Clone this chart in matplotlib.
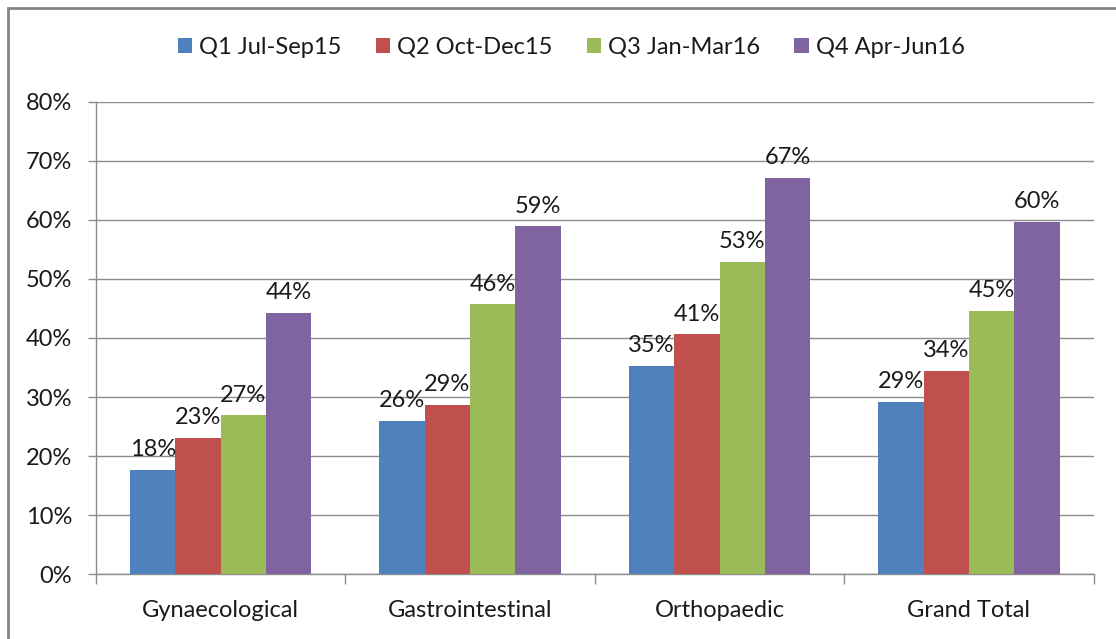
import numpy as np
import matplotlib
matplotlib.use('Agg')
import matplotlib.pyplot as plt
from matplotlib.patches import Rectangle

categories = ['Gynaecological', 'Gastrointestinal', 'Orthopaedic', 'Grand Total']
series_names = ['Q1 Jul-Sep15', 'Q2 Oct-Dec15', 'Q3 Jan-Mar16', 'Q4 Apr-Jun16']
q1 = [17.7, 25.9, 35.3, 29.2]
q2 = [23.1, 28.7, 40.6, 34.4]
q3 = [26.9, 45.7, 52.9, 44.6]
q4 = [44.2, 58.9, 67.2, 59.7]
colors = ['#4F81BD', '#C0504D', '#9BBB59', '#8064A2']

plt.rcParams['font.family'] = ['Lato', 'DejaVu Sans']
txt = '#1a1a1a'
grid = '#8c8c8c'
fs = 17

fig = plt.figure(figsize=(11.16, 6.39), dpi=100)
ax = fig.add_axes([0.086, 0.1017, 0.894, 0.7387])

x = np.arange(len(categories))
w = 1 / 5.5
for i, (vals, name) in enumerate(zip([q1, q2, q3, q4], series_names)):
    pos = x + (i - 1.5) * w
    bars = ax.bar(pos, vals, width=w, color=colors[i], label=name, zorder=3)
    for b, v in zip(bars, vals):
        ax.annotate('%d%%' % round(v), (b.get_x() + b.get_width() / 2, v),
                    xytext=(0, 7), textcoords='offset points',
                    ha='center', va='bottom', fontsize=fs, color=txt, zorder=4)

ax.set_xlim(-0.5, 3.5)
ax.set_ylim(0, 80)
ax.set_yticks(range(0, 81, 10))
ax.set_yticklabels(['%d%%' % t for t in range(0, 81, 10)])
ax.yaxis.grid(True, color=grid, linewidth=1, zorder=0)

ax.set_xticks(x)
ax.set_xticklabels(categories)
ax.set_xticks(np.arange(-0.5, 4, 1), minor=True)
ax.tick_params(axis='x', which='major', length=0, pad=19, labelsize=fs, labelcolor=txt)
ax.tick_params(axis='x', which='minor', length=7, width=1, color=grid, direction='out')
ax.tick_params(axis='y', length=6, width=1, color=grid, pad=11, labelsize=fs, labelcolor=txt)

for s in ['top', 'right']:
    ax.spines[s].set_visible(False)
for s in ['left', 'bottom']:
    ax.spines[s].set_color(grid)
    ax.spines[s].set_linewidth(1)

leg = fig.legend(loc='center', bbox_to_anchor=(0.512, 0.926), ncol=4, frameon=False,
                 fontsize=fs, handlelength=0.6, handleheight=0.6,
                 handletextpad=0.3, columnspacing=1.45)
for t in leg.get_texts():
    t.set_color(txt)

fig.patches.append(Rectangle((0.0072, -0.1), 1.5, 1.0875, transform=fig.transFigure,
                             fill=False, edgecolor='#858585', linewidth=2))

fig.savefig('out.png', dpi=100)
